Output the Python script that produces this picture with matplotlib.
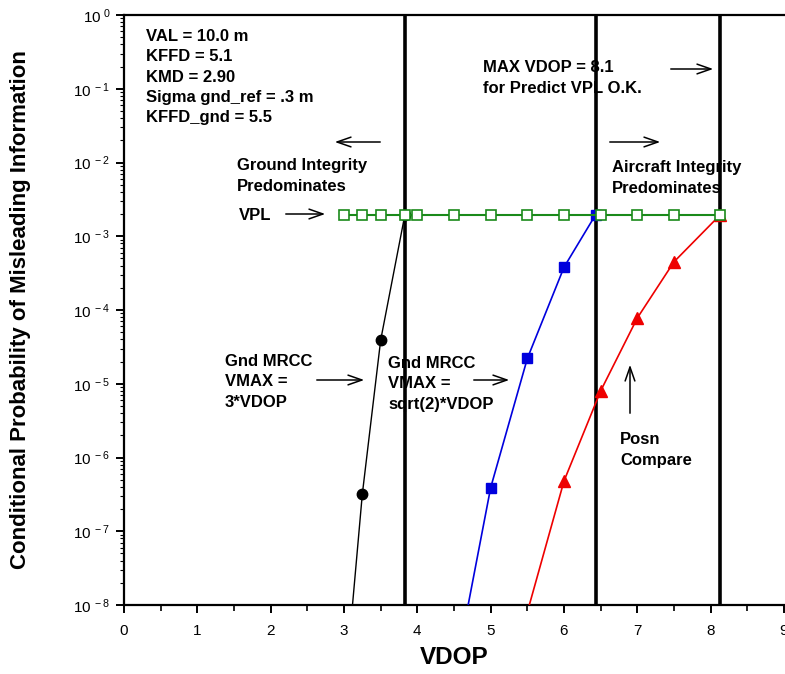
import numpy as np
import matplotlib.pyplot as plt
from matplotlib.ticker import FixedLocator, LogLocator, NullFormatter

plt.rcParams["font.family"] = ["Liberation Sans", "DejaVu Sans"]
plt.rcParams["mathtext.fontset"] = "custom"
plt.rcParams["mathtext.rm"] = "Liberation Sans"
plt.rcParams["mathtext.it"] = "Liberation Sans"

# VPL (constant predicted level)
vpl_vdop = [3.0, 3.25, 3.5, 3.83, 4.0, 4.5, 5.0, 5.5, 6.0, 6.5, 7.0, 7.5, 8.13]
vpl_pmi = [1.95e-3] * len(vpl_vdop)

# Gnd MRCC, VMAX = 3*VDOP
gnd3_vdop = [3.0, 3.25, 3.5, 3.83]
gnd3_pmi = [5e-10, 3.2e-7, 3.9e-5, 1.95e-3]

# Gnd MRCC, VMAX = sqrt(2)*VDOP
gnd2_vdop = [4.5, 5.0, 5.5, 6.0, 6.43]
gnd2_pmi = [1e-9, 3.9e-7, 2.2e-5, 3.8e-4, 1.95e-3]

# Position compare
posn_vdop = [5.5, 6.0, 6.5, 7.0, 7.5, 8.13]
posn_pmi = [8e-9, 4.8e-7, 8.0e-6, 7.8e-5, 4.5e-4, 1.95e-3]

# limit lines
limit_vdop = [3.83, 6.43, 8.13]

fig = plt.figure(figsize=(7.85, 6.74), dpi=100)
ax = fig.add_axes([124 / 785, 1 - 605 / 674, 660 / 785, 590 / 674])

ax.set_yscale("log")
ax.set_xlim(0, 9)
ax.set_ylim(1e-8, 1)

for v in limit_vdop:
    ax.axvline(v, color="black", lw=2.6, zorder=2)

ax.plot(gnd3_vdop, gnd3_pmi, color="black", lw=1.0, marker="o", ms=7.5,
        mfc="black", mec="black", zorder=3)
ax.plot(gnd2_vdop, gnd2_pmi, color="#0000dd", lw=1.2, marker="s", ms=7,
        mfc="#0000dd", mec="#0000dd", zorder=3)
ax.plot(posn_vdop, posn_pmi, color="#ee0000", lw=1.2, marker="^", ms=8,
        mfc="#ee0000", mec="#ee0000", zorder=3)
ax.plot(vpl_vdop, vpl_pmi, color="#1a8a1a", lw=1.5, marker="s", ms=7.5,
        mfc="white", mec="#1a8a1a", mew=1.2, zorder=4)

# axes styling
ax.spines["right"].set_visible(False)
for s in ["left", "bottom", "top"]:
    ax.spines[s].set_linewidth(1.6)

ax.xaxis.set_major_locator(FixedLocator(range(0, 10)))
ax.xaxis.set_minor_locator(FixedLocator(np.arange(0.5, 9, 1.0)))
ax.tick_params(axis="x", which="major", direction="out", length=6, width=1.4,
               labelsize=11, pad=8, top=False)
ax.tick_params(axis="x", which="minor", direction="out", length=4, width=1.2, top=False)

ax.yaxis.set_major_locator(LogLocator(base=10, numticks=20))
ax.yaxis.set_minor_locator(LogLocator(base=10, subs=np.arange(2, 10), numticks=20))
ax.yaxis.set_minor_formatter(NullFormatter())
ax.tick_params(axis="y", which="major", direction="out", length=6, width=1.4,
               labelsize=11, pad=4, right=False)
ax.tick_params(axis="y", which="minor", direction="out", length=3, width=0.8, right=False)
exps = range(-8, 1)
ax.set_yticks([10.0 ** e for e in exps])
ax.set_yticklabels([r"10$^{\ %d}$" % e for e in exps])

ax.set_xlabel("VDOP", fontsize=17.5, fontweight="bold")
ax.xaxis.set_label_coords(0.5, -(657 - 605) / 590, transform=ax.transAxes)
ax.set_ylabel("Conditional Probability of Misleading Information", fontsize=16,
              fontweight="bold")
ax.yaxis.set_label_coords(-(124 - 21) / 660, 0.5, transform=ax.transAxes)
ax.xaxis.label.set_va("center")
ax.yaxis.label.set_va("center")

txt = dict(fontsize=12, fontweight="bold", ha="left", va="center",
           transform=ax.transData, linespacing=1.42)


def px(x, y):
    # figure pixel -> data
    xd = (x - 124) / 660 * 9
    yd = 10 ** (-(y - 15) / 590 * 8)
    return xd, yd


def arrow(x0, y0, x1, y1):
    ax.annotate("", xy=px(x1, y1), xytext=px(x0, y0),
                arrowprops=dict(arrowstyle="->,head_length=1.0,head_width=0.35",
                                lw=1.1, color="black"), zorder=5)


ax.text(*px(146, 77), "VAL = 10.0 m\nKFFD = 5.1\nKMD = 2.90\nSigma gnd_ref = .3 m\nKFFD_gnd = 5.5",
        **txt, zorder=6)
ax.text(*px(237, 176), "Ground Integrity\nPredominates", **txt)
ax.text(*px(239, 215), "VPL", **txt)
ax.text(*px(483, 78), "MAX VDOP = 8.1\nfor Predict VPL O.K.", **txt)
ax.text(*px(612, 178), "Aircraft Integrity\nPredominates", **txt)
ax.text(*px(225, 382), "Gnd MRCC\nVMAX =\n3*VDOP", **txt)
ax.text(*px(388, 384), "Gnd MRCC\nVMAX =\nsqrt(2)*VDOP", **txt)
ax.text(*px(620, 450), "Posn\nCompare", **txt)

arrow(383, 142, 332, 142)
arrow(283, 214, 328, 214)
arrow(668, 69, 716, 69)
arrow(607, 142, 663, 142)
arrow(314, 380, 367, 380)
arrow(471, 380, 512, 380)
arrow(630, 416, 630, 362)

plt.savefig("out.png", dpi=100)
plt.close()
